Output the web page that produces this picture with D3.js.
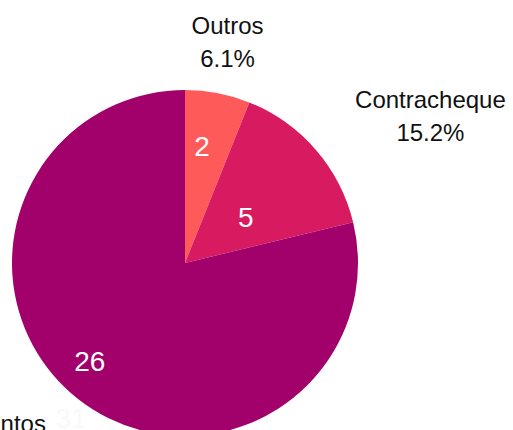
<!DOCTYPE html>
<html>
<head>
<meta charset="utf-8">
<script src="https://cdn.jsdelivr.net/npm/d3@7"></script>
<style>
  body { margin: 0; background: #fff; }
  svg { display: block; font-family: "Liberation Sans", Arial, sans-serif; }
</style>
</head>
<body>
<div id="chart"></div>
<script>
// data
const categories = ["Outros", "Contracheque", "Documentos"];
const values = [2, 5, 26];
const colors = ["#ff5a5a", "#d81b60", "#a2006b"];

const width = 513, height = 430;
const cx = 185, cy = 263, radius = 173;

const svg = d3.select("#chart").append("svg")
    .attr("width", width)
    .attr("height", height);

const g = svg.append("g").attr("transform", "translate(" + cx + "," + cy + ")");

const total = d3.sum(values);
const pie = d3.pie().sort(null).value(function(d) { return d; });
const arcs = pie(values);

const arc = d3.arc().innerRadius(0).outerRadius(radius);

g.selectAll("path.slice")
    .data(arcs)
    .enter().append("path")
    .attr("class", "slice")
    .attr("d", arc)
    .attr("fill", function(d, i) { return colors[i]; });

// value labels inside slices (radius fraction / angle nudge per slice)
const innerR = [0.68, 0.44, 0.79];
const nudge = [-2.6, 4, 6];
function innerPos(d, i) {
    let a = (d.startAngle + d.endAngle) / 2 + nudge[i] * Math.PI / 180;
    return [Math.sin(a) * radius * innerR[i], -Math.cos(a) * radius * innerR[i]];
}
g.selectAll("text.val")
    .data(arcs)
    .enter().append("text")
    .attr("class", "val")
    .attr("x", function(d, i) { return innerPos(d, i)[0]; })
    .attr("y", function(d, i) { return innerPos(d, i)[1]; })
    .attr("dy", "0.35em")
    .attr("text-anchor", "middle")
    .attr("font-size", 28)
    .attr("fill", "#fff")
    .text(function(d) { return d.value; });

// outer labels: name + percentage, block pushed outward from anchor point
const outerR = 225;
const lab = g.selectAll("g.lab")
    .data(arcs)
    .enter().append("g")
    .attr("class", "lab");

lab.append("text")
    .attr("text-anchor", "middle")
    .attr("y", -16)
    .attr("dy", "0.35em")
    .attr("font-size", 24)
    .attr("fill", "#111")
    .text(function(d, i) { return categories[i]; });

lab.append("text")
    .attr("text-anchor", "middle")
    .attr("y", 17)
    .attr("dy", "0.35em")
    .attr("font-size", 24)
    .attr("fill", "#111")
    .text(function(d) { return (d.value / total * 100).toFixed(1) + "%"; });

lab.attr("transform", function(d) {
    let a = (d.startAngle + d.endAngle) / 2;
    let x = Math.sin(a) * outerR, y = -Math.cos(a) * outerR;
    let w = this.getBBox().width / 2;
    if (x > 60) x += w;
    else if (x < -60) x -= w;
    return "translate(" + x + "," + y + ")";
});

// faint total label near the bottom left
svg.append("text")
    .attr("x", 71)
    .attr("y", 418)
    .attr("dy", "0.35em")
    .attr("text-anchor", "middle")
    .attr("font-size", 28)
    .attr("fill", "#f9f9f9")
    .text("31");
</script>
</body>
</html>
